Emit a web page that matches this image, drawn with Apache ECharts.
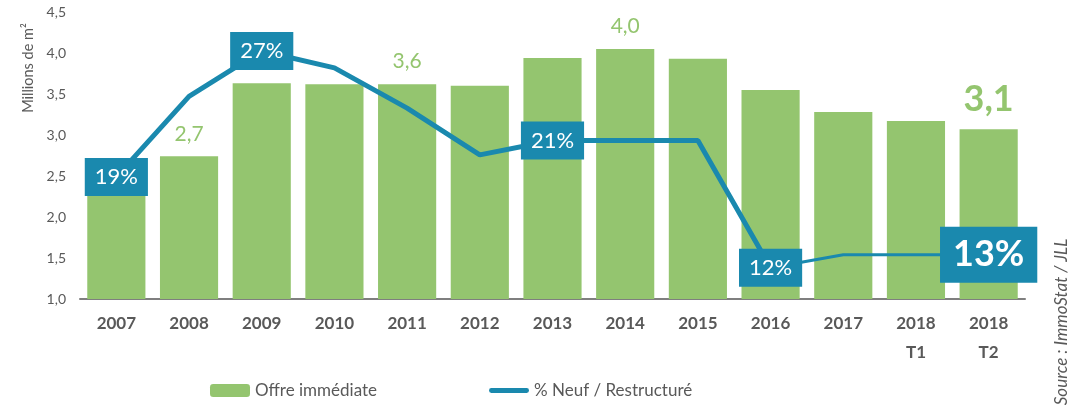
<!DOCTYPE html>
<html>
<head>
<meta charset="utf-8">
<script src="https://cdn.jsdelivr.net/npm/echarts@6/dist/echarts.min.js"></script>
<style>
  html, body { margin: 0; padding: 0; background: #fff; }
  #chart { width: 1085px; height: 405px; }
</style>
</head>
<body>
<div id="chart"></div>
<script>
// données
var annees = ['2007', '2008', '2009', '2010', '2011', '2012', '2013', '2014', '2015', '2016', '2017', '2018\nT1', '2018\nT2'];
var offreImmediate = [2.6, 2.74, 3.63, 3.62, 3.62, 3.6, 3.94, 4.05, 3.93, 3.55, 3.28, 3.17, 3.07];
var tauxNeuf = [19, 25.2, 28.7, 27.4, 24.3, 20.7, 21.8, 21.8, 21.8, 12, 13, 13, 13];
var etiquettesTaux = ['19%', '', '27%', '', '', '', '21%', '', '', '12%', '', '', '13%'];
var offreAffichee = [1, 4, 7, 12]; // barres avec valeur affichée
var ticksY = [1, 1.5, 2, 2.5, 3, 3.5, 4, 4.5];

var VERT = '#94c56f';
var BLEU = '#1a89ae';
var GRIS = '#595959';
var POLICE = 'Lato, "Open Sans", sans-serif';

function virgule(v) { return v.toFixed(1).replace('.', ','); }

var barData = offreImmediate.map(function (v, i) {
  if (offreAffichee.indexOf(i) < 0) return v;
  var fort = i === annees.length - 1;
  return {
    value: v,
    label: {
      show: true,
      position: 'top',
      distance: 12,
      formatter: virgule(v),
      color: VERT,
      fontFamily: POLICE,
      fontSize: fort ? 36 : 21,
      fontWeight: fort ? 'bold' : 'normal'
    }
  };
});

function pointTaux(i) {
  var txt = etiquettesTaux[i];
  if (!txt) return tauxNeuf[i];
  var fort = i === annees.length - 1;
  return {
    value: tauxNeuf[i],
    label: {
      show: true,
      position: 'inside',
      formatter: txt,
      backgroundColor: BLEU,
      color: '#fff',
      fontFamily: POLICE,
      fontSize: fort ? 36 : 22,
      fontWeight: fort ? 'bold' : 'normal',
      padding: fort ? [10, 13] : [8, 10]
    }
  };
}

var ligneEpaisse = tauxNeuf.map(function (v, i) {
  if (i > 9) return '-';
  return i === 9 ? v : pointTaux(i);
});
var ligneFine = tauxNeuf.map(function (v, i) {
  if (i < 9) return '-';
  return pointTaux(i);
});

var chart = echarts.init(document.getElementById('chart'));
chart.setOption({
  animation: false,
  grid: { left: 80, right: 60, top: 12, bottom: 106 },
  legend: {
    left: 205,
    top: 377,
    itemWidth: 40,
    itemHeight: 13,
    itemGap: 112,
    symbolKeepAspect: true,
    data: [
      { name: 'Offre immédiate' },
      { name: '% Neuf / Restructuré', icon: 'path://M2.5,0 H39.5 A2.5,2.5 0 0 1 39.5,5 H2.5 A2.5,2.5 0 0 1 2.5,0 Z' }
    ],
    textStyle: { color: GRIS, fontSize: 17, fontFamily: POLICE }
  },
  xAxis: {
    type: 'category',
    data: annees,
    axisLine: { lineStyle: { color: '#7f7f7f', width: 2 } },
    axisTick: { show: false },
    axisLabel: {
      color: GRIS,
      fontSize: 17,
      fontWeight: 'bold',
      fontFamily: POLICE,
      margin: 10,
      lineHeight: 29
    }
  },
  yAxis: [{
    type: 'value',
    min: ticksY[0],
    max: ticksY[ticksY.length - 1],
    interval: 0.5,
    axisLine: { show: false },
    axisTick: { show: false },
    splitLine: { show: false },
    axisLabel: {
      color: GRIS,
      fontSize: 14,
      fontFamily: POLICE,
      margin: 14,
      formatter: function (v) { return virgule(v); }
    }
  }, {
    type: 'value',
    min: 9.6,
    max: 31.7,
    show: false,
    splitLine: { show: false }
  }],
  series: [{
    name: 'Offre immédiate',
    type: 'bar',
    data: barData,
    barCategoryGap: '20%',
    itemStyle: { color: VERT }
  }, {
    name: '% Neuf / Restructuré',
    type: 'line',
    yAxisIndex: 1,
    data: ligneEpaisse,
    symbol: 'circle',
    symbolSize: 0,
    showSymbol: true,
    lineStyle: { color: BLEU, width: 5, cap: 'round' },
    itemStyle: { color: BLEU },
    label: { show: false }
  }, {
    name: '% Neuf / Restructuré',
    type: 'line',
    yAxisIndex: 1,
    z: 3,
    data: ligneFine,
    symbol: 'circle',
    symbolSize: 0,
    showSymbol: true,
    lineStyle: { color: BLEU, width: 3 },
    itemStyle: { color: BLEU },
    label: { show: false }
  }],
  graphic: [{
    type: 'text',
    x: 28,
    y: 68,
    rotation: Math.PI / 2,
    style: {
      text: 'Millions de m²',
      fill: GRIS,
      font: '14.5px ' + POLICE,
      textAlign: 'center',
      textVerticalAlign: 'middle'
    }
  }, {
    type: 'text',
    x: 1062,
    y: 322,
    rotation: Math.PI / 2,
    style: {
      text: 'Source : ImmoStat / JLL',
      fill: GRIS,
      font: 'italic 17px ' + POLICE,
      textAlign: 'center',
      textVerticalAlign: 'middle'
    }
  }]
});
</script>
</body>
</html>
